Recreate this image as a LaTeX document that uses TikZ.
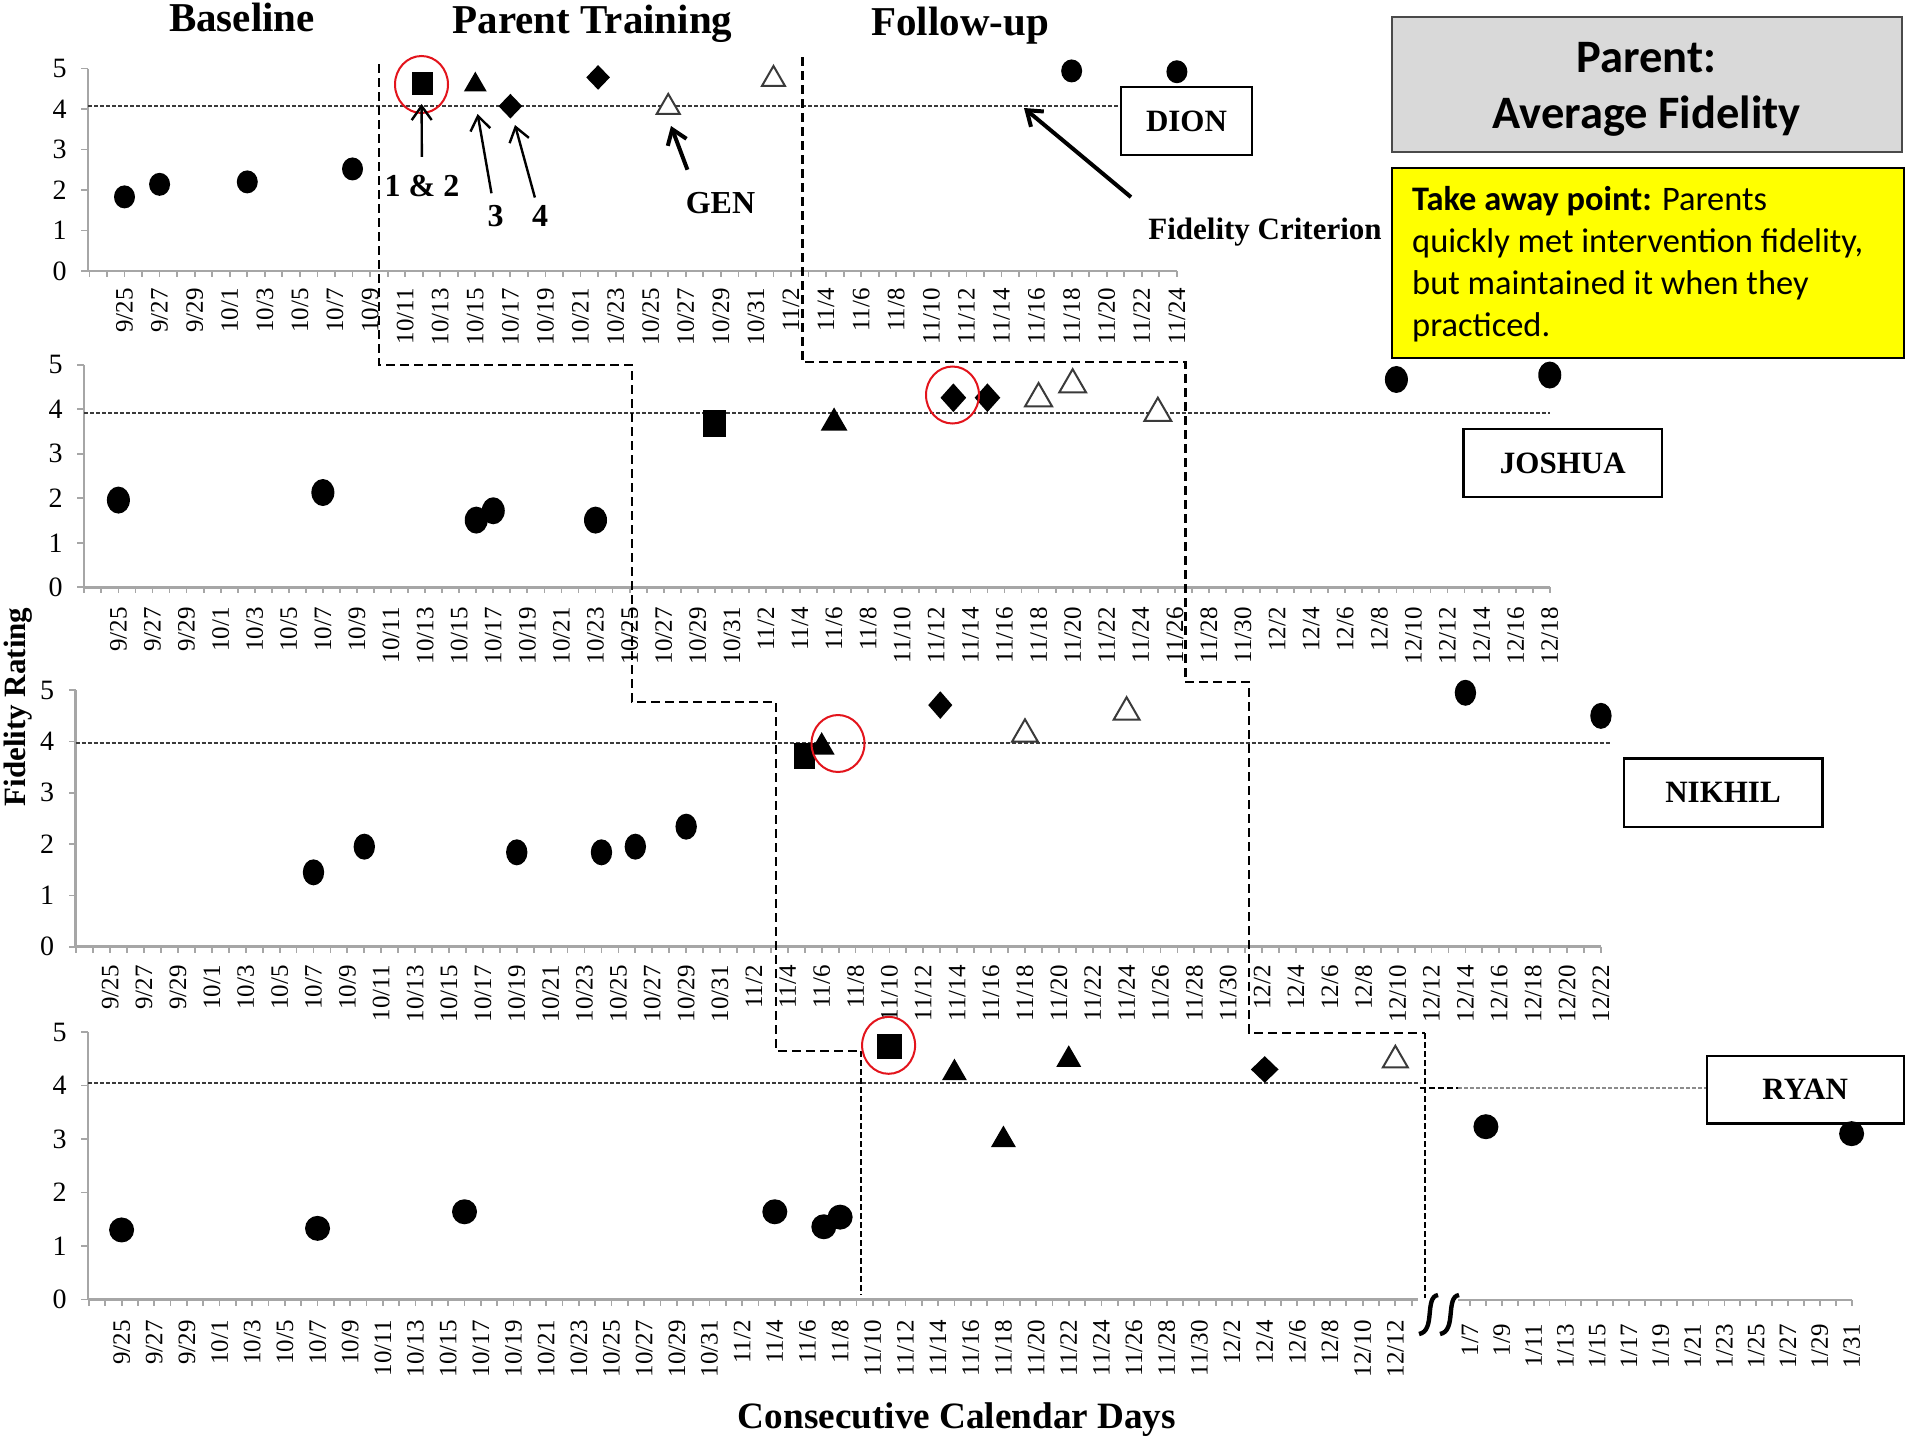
\documentclass[tikz,border=0pt]{standalone}
\usepackage{fontspec}
\setmainfont{Liberation Serif}
\newfontfamily\calfont{Carlito}
\usetikzlibrary{arrows.meta,shapes.geometric}

\definecolor{axisgray}{HTML}{A6A6A6}
\definecolor{critgray}{HTML}{3A3A3A}
\definecolor{critlight}{HTML}{8C8C8C}
\definecolor{otrigray}{HTML}{3A3A3A}
\definecolor{ringred}{HTML}{E3141C}
\definecolor{boxgray}{HTML}{D9D9D9}
\definecolor{boxedge}{HTML}{4A4A4A}
\definecolor{notebg}{HTML}{FFFF00}

\def\mkw{10pt}
\def\mkh{11pt}

\tikzset{
  axisline/.style={draw=axisgray, line width=1.3pt},
  tickline/.style={draw=axisgray, line width=0.9pt},
  crit/.style={draw=critgray, line width=0.9pt, dash pattern=on 2pt off 1pt},
  phase/.style={draw=black, line width=1.4pt, dash pattern=on 4.5pt off 2.5pt},
  phasethin/.style={draw=black, line width=0.9pt, dash pattern=on 3pt off 1.5pt},
  datelab/.style={rotate=90, anchor=east, inner sep=0pt, font=\fontsize{12.5pt}{14pt}\selectfont},
  ylab/.style={anchor=east, inner sep=0pt, font=\fontsize{14pt}{16pt}\selectfont},
  mkdot/.style={ellipse, fill=black, inner sep=0pt, minimum width=\mkw, minimum height=\mkh},
  mksq/.style={rectangle, fill=black, inner sep=0pt, minimum width=\mkw, minimum height=\mkh},
  mktri/.style={regular polygon, regular polygon sides=3, fill=black, inner sep=0pt, minimum size=1.15*\mkh},
  mkdia/.style={diamond, fill=black, inner sep=0pt, minimum width=\mkw+1.5pt, minimum height=\mkh+1pt},
  mkotri/.style={regular polygon, regular polygon sides=3, draw=otrigray, line width=1pt, fill=white, inner sep=0pt, minimum size=1.15*\mkh},
  mkring/.style={ellipse, draw=ringred, line width=1pt, inner sep=0pt, minimum width=26.5pt, minimum height=28.5pt},
  namebox/.style={draw=black, line width=1.25pt, inner sep=0pt, minimum height=34pt, font=\bfseries\fontsize{15.5pt}{18pt}\selectfont},
  headtxt/.style={anchor=base, inner sep=0pt, font=\bfseries\fontsize{20.5pt}{24pt}\selectfont},
  ptlab/.style={anchor=base, inner sep=0pt, font=\bfseries\fontsize{16pt}{19pt}\selectfont},
  cardtitle/.style={anchor=base, inner sep=0pt, font=\calfont\bfseries\fontsize{23.25pt}{28pt}\selectfont},
  notetxt/.style={anchor=base west, inner sep=0pt, font=\calfont\fontsize{17.2pt}{21pt}\selectfont},
  arrthin/.style={line width=1.2pt, -{Straight Barb[length=7pt,width=10pt]}},
  arrthick/.style={line width=2pt, -{Straight Barb[length=7pt,width=10pt]}},
}

% #1 id, #2 x of rating axis, #3 y of rating 0, #4 px per rating unit,
% #5 x of 9/25, #6 px per day, #7 last day, #8 top of date labels, #9 date labels
\newcommand{\fidaxes}[9]{%
  \draw[axisline] (#2,#3) -- (#2,{#3-5*#4});
  \foreach \yy in {0,...,5}{
    \draw[tickline] (#2,{#3-\yy*#4}) -- ({#2-7},{#3-\yy*#4});
    \node[ylab] (#1y\yy) at ({#2-21},{#3-\yy*#4}) {\yy};
  }
  \draw[axisline] (#2,#3) -- ({#5+#7*#6},#3);
  \foreach \kk in {-2,...,#7}
    \draw[tickline] ({#5+\kk*#6},#3) -- ({#5+\kk*#6},{#3+6});
  \foreach \lab [count=\ii from 0] in {#9}
    \node[datelab] (#1d\ii) at ({#5+2*\ii*#6},#8) {\lab};
}

\begin{document}
\begin{tikzpicture}[x=0.5pt,y=-0.5pt]
\fill[white] (0,0) rectangle (1905,1440);
\useasboundingbox (0,0) rectangle (1905,1440);

% phase headings and axis titles
\node[headtxt] (hbase) at (242,31.5) {Baseline};
\node[headtxt] (htrain) at (592.5,33.5) {Parent Training};
\node[headtxt] (hfollow) at (960,35) {Follow-up};
\node[rotate=90, inner sep=0pt, font=\bfseries\fontsize{15.5pt}{18pt}\selectfont] (yrating) at (18.5,707) {Fidelity Rating};
\node[anchor=base, inner sep=0pt, font=\bfseries\fontsize{18.6pt}{22pt}\selectfont] (xdays) at (957,1428) {Consecutive Calendar Days};

% axes of the four panels
\fidaxes{pa}{88}{271}{40.5}{124.5}{17.54}{60}{288}{9/25,9/27,9/29,10/1,10/3,10/5,10/7,10/9,10/11,10/13,10/15,10/17,10/19,10/21,10/23,10/25,10/27,10/29,10/31,11/2,11/4,11/6,11/8,11/10,11/12,11/14,11/16,11/18,11/20,11/22,11/24}
\fidaxes{pb}{84}{587.3}{44.5}{118.4}{17.04}{84}{606.7}{9/25,9/27,9/29,10/1,10/3,10/5,10/7,10/9,10/11,10/13,10/15,10/17,10/19,10/21,10/23,10/25,10/27,10/29,10/31,11/2,11/4,11/6,11/8,11/10,11/12,11/14,11/16,11/18,11/20,11/22,11/24,11/26,11/28,11/30,12/2,12/4,12/6,12/8,12/10,12/12,12/14,12/16,12/18}
\fidaxes{pc}{75.5}{946.7}{51.3}{110.2}{16.94}{88}{965}{9/25,9/27,9/29,10/1,10/3,10/5,10/7,10/9,10/11,10/13,10/15,10/17,10/19,10/21,10/23,10/25,10/27,10/29,10/31,11/2,11/4,11/6,11/8,11/10,11/12,11/14,11/16,11/18,11/20,11/22,11/24,11/26,11/28,11/30,12/2,12/4,12/6,12/8,12/10,12/12,12/14,12/16,12/18,12/20,12/22}
\fidaxes{pd}{88}{1299.5}{53.5}{121.6}{16.33}{78}{1320}{9/25,9/27,9/29,10/1,10/3,10/5,10/7,10/9,10/11,10/13,10/15,10/17,10/19,10/21,10/23,10/25,10/27,10/29,10/31,11/2,11/4,11/6,11/8,11/10,11/12,11/14,11/16,11/18,11/20,11/22,11/24,11/26,11/28,11/30,12/2,12/4,12/6,12/8,12/10,12/12}

% last panel: axis end before the break, January part after it
\draw[axisline] ({121.6+78*16.33},1299.5) -- (1418,1299.5);
\draw[tickline] ({121.6+79*16.33},1299.5) -- ++(0,6);
\draw[axisline] (1458,1300) -- (1852,1300);
\foreach \kk in {0,...,24}
  \draw[tickline] ({1470+15.9*\kk},1300) -- ++(0,6);
\foreach \lab [count=\ii from 0] in {1/7,1/9,1/11,1/13,1/15,1/17,1/19,1/21,1/23,1/25,1/27,1/29,1/31}
  \node[datelab] (pdq\ii) at ({1470+31.8*\ii},1324) {\lab};
\draw[line width=2.2pt] (1438,1295) .. controls (1424,1297) and (1436,1331) .. (1419,1334);
\draw[line width=2.2pt] (1459,1295) .. controls (1445,1297) and (1457,1331) .. (1440,1334);

% fidelity criterion lines
\draw[crit] (88,106) -- (1121,106);
\draw[crit] (84,412.7) -- (1549.8,412.7);
\draw[crit] (75.5,743.3) -- (1611,743.3);
\draw[crit] (88,1083.3) -- (1420,1083.3);
\draw[crit, draw=critlight, line width=1.2pt] (1458,1087.7) -- (1706.5,1087.7);

% phase change lines
\draw[phase] (379,64) -- (379,365) -- (632,365) -- (632,702) -- (776,702) -- (776,1051) -- (861,1051);
\draw[phasethin] (861,1051) -- (861,1295);
\draw[phase] (802.4,57) -- (802.4,362) -- (1185.3,362) -- (1185.3,682) -- (1249,682) -- (1249,1033) -- (1425.3,1033);
\draw[phasethin] (1425.3,1033) -- (1425.3,1298);
\draw[phasethin] (1420,1087.7) -- (1458,1087.7);

% name boxes
\node[namebox, minimum width=65.5pt] (ndion) at (1186.5,121) {DION};
\node[namebox, minimum width=99.25pt] (njoshua) at (1562.75,463) {JOSHUA};
\node[namebox, minimum width=99.25pt, minimum height=34.25pt] (nnikhil) at (1723,792.5) {NIKHIL};
\node[namebox, minimum width=98.5pt, minimum height=33.75pt] (nryan) at (1805.25,1089.5) {RYAN};

% panel 1 data
\def\mkw{10.5pt}\def\mkh{11.5pt}
\foreach \dy/\val [count=\ii] in {0/1.83,2/2.14,7/2.2,13/2.52,54/4.94,60/4.92}
  \node[mkdot] (pac\ii) at ({124.5+17.54*\dy},{271-40.5*\val}) {};
\node[mksq] (pasq) at ({124.5+17.54*17},{271-40.5*4.63}) {};
\node[mktri] (patr) at ({124.5+17.54*20},{271-40.5*4.67+3}) {};
\foreach \dy/\val [count=\ii] in {22/4.07,27/4.78}
  \node[mkdia] (padi\ii) at ({124.5+17.54*\dy},{271-40.5*\val}) {};
\foreach \dy/\val [count=\ii] in {31/4.12,37/4.81}
  \node[mkotri] (paot\ii) at ({124.5+17.54*\dy},{271-40.5*\val+3}) {};
\node[mkring] (ringa) at (421.5,84.5) {};

% panel 2 data
\def\mkw{11.5pt}\def\mkh{13.5pt}
\foreach \dy/\val [count=\ii] in {0/1.96,12/2.13,21/1.51,22/1.72,28/1.51,75/4.67,84/4.77}
  \node[mkdot] (pbc\ii) at ({118.4+17.04*\dy},{587.3-44.5*\val}) {};
\node[mksq] (pbsq) at ({118.4+17.04*35},{587.3-44.5*3.67}) {};
\node[mktri] (pbtr) at ({118.4+17.04*42},{587.3-44.5*3.76+3}) {};
\foreach \dy/\val [count=\ii] in {49/4.26,51/4.26}
  \node[mkdia] (pbdi\ii) at ({118.4+17.04*\dy},{587.3-44.5*\val}) {};
\foreach \dy/\val [count=\ii] in {54/4.31,56/4.62,61/3.98}
  \node[mkotri] (pbot\ii) at ({118.4+17.04*\dy},{587.3-44.5*\val+3}) {};
\node[mkring] (ringb) at (952.5,395) {};

% panel 3 data
\def\mkw{10.7pt}\def\mkh{13pt}
\foreach \dy/\val [count=\ii] in {12/1.45,15/1.95,24/1.84,29/1.84,31/1.95,34/2.34,80/4.95,88/4.5}
  \node[mkdot] (pcc\ii) at ({110.2+16.94*\dy},{946.7-51.3*\val}) {};
\node[mksq] (pcsq) at ({110.2+16.94*41},{946.7-51.3*3.72}) {};
\node[mktri] (pctr) at ({110.2+16.94*42},{946.7-51.3*3.95+3}) {};
\node[mkdia] (pcdi) at ({110.2+16.94*49},{946.7-51.3*4.71}) {};
\foreach \dy/\val [count=\ii] in {54/4.2,60/4.63}
  \node[mkotri] (pcot\ii) at ({110.2+16.94*\dy},{946.7-51.3*\val+3}) {};
\node[mkring] (ringc) at (838,743.5) {};

% panel 4 data
\def\mkw{12.5pt}\def\mkh{12.5pt}
\foreach \dy/\val [count=\ii] in {0/1.3,12/1.33,21/1.64,40/1.64,43/1.36,44/1.54}
  \node[mkdot] (pdc\ii) at ({121.6+16.33*\dy},{1299.5-53.5*\val}) {};
\node[mkdot] (pdj1) at ({1470+15.9*1},{1299.5-53.5*3.23}) {};
\node[mkdot] (pdj2) at ({1470+15.9*24},{1299.5-53.5*3.1}) {};
\node[mksq] (pdsq) at ({121.6+16.33*47},{1299.5-53.5*4.73}) {};
\foreach \dy/\val [count=\ii] in {51/4.29,54/3.04,58/4.54}
  \node[mktri] (pdtr\ii) at ({121.6+16.33*\dy},{1299.5-53.5*\val+3}) {};
\node[mkdia] (pddi) at ({121.6+16.33*70},{1299.5-53.5*4.3}) {};
\node[mkotri] (pdot) at ({121.6+16.33*78},{1299.5-53.5*4.53+3}) {};
\node[mkring] (ringd) at (888.6,1045.3) {};

% session labels with pointers
\node[ptlab] (l12) at (422,196.5) {1 \& 2};
\coordinate (t12) at (421.6,104);
\draw[arrthin, shorten <=9pt] (l12) -- (t12);
\node[ptlab] (l3) at (495.5,226.7) {3};
\coordinate (t3) at (477.6,114);
\draw[arrthin, shorten <=6pt] (l3) -- (t3);
\node[ptlab] (l4) at (540,226.7) {4};
\coordinate (t4) at (515,125);
\draw[arrthin, shorten <=4pt] (l4) -- (t4);
\node[ptlab] (lgen) at (720.5,213.3) {GEN};
\coordinate (tgen) at (671,126);
\draw[arrthick] ([shift={(2,-22)}]lgen.north west) -- (tgen);
\node[ptlab, font=\bfseries\fontsize{15.5pt}{18pt}\selectfont] (lfc) at (1265,239) {Fidelity Criterion};
\coordinate (tfc) at (1024,108);
\draw[arrthick] ([shift={(-17,-20)}]lfc.north west) -- (tfc);

% title card and note
\node[draw=boxedge, fill=boxgray, line width=1pt, inner sep=0pt, minimum width=254.75pt, minimum height=67.5pt] (card) at (1646.75,84.5) {};
\node[cardtitle] (card1) at (1646.5,72) {Parent:};
\node[cardtitle] (card2) at (1646.7,128) {Average Fidelity};
\node[draw=black, fill=notebg, line width=1.25pt, inner sep=0pt, minimum width=256pt, minimum height=95pt] (note) at (1648,263) {};
\node[notetxt] (note1) at (1411.8,210) {\textbf{Take away point:} Parents};
\node[notetxt] (note2) at (1411.8,252) {quickly met intervention fidelity,};
\node[notetxt] (note3) at (1411.8,294) {but maintained it when they};
\node[notetxt] (note4) at (1411.8,336) {practiced.};
\end{tikzpicture}
\end{document}
